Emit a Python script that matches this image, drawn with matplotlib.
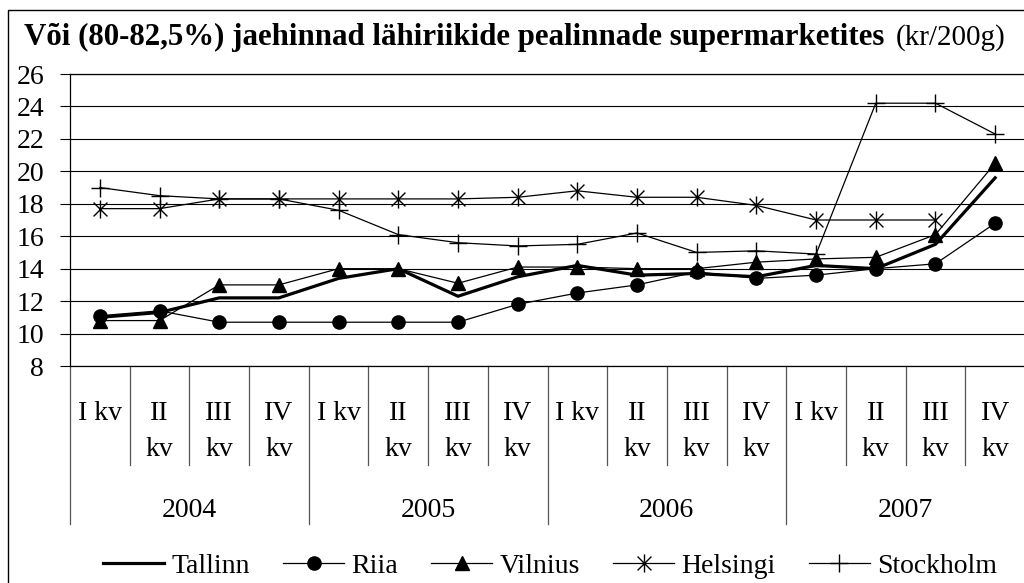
import numpy as np
import matplotlib
matplotlib.use("Agg")
import matplotlib.pyplot as plt
from matplotlib.path import Path
from matplotlib.lines import Line2D
from matplotlib.patches import Rectangle
import matplotlib.transforms as mtransforms

plt.rcParams['font.family'] = ['Liberation Serif', 'DejaVu Serif']

# data (kr/200g)
years = ['2004', '2005', '2006', '2007']
quarters = ['I kv', 'II\nkv', 'III\nkv', 'IV\nkv']
tallinn = [11.0, 11.3, 12.2, 12.2, 13.4, 14.0, 12.3, 13.5, 14.2, 13.6, 13.7, 13.5, 14.2, 14.0, 15.5, 19.6]
riia = [11.1, 11.4, 10.7, 10.7, 10.7, 10.7, 10.7, 11.8, 12.5, 13.0, 13.8, 13.4, 13.6, 14.0, 14.3, 16.8]
vilnius = [10.8, 10.8, 13.0, 13.0, 14.0, 14.0, 13.1, 14.1, 14.1, 14.0, 14.0, 14.4, 14.6, 14.7, 16.1, 20.5]
helsingi = [17.7, 17.7, 18.3, 18.3, 18.3, 18.3, 18.3, 18.4, 18.8, 18.4, 18.4, 17.9, 17.0, 17.0, 17.0, np.nan]
stockholm = [19.0, 18.5, 18.3, 18.3, 17.6, 16.1, 15.6, 15.4, 15.5, 16.2, 15.0, 15.1, 14.9, 24.2, 24.2, 22.3]

W, H = 1024, 583
fig = plt.figure(figsize=(W / 100, H / 100), dpi=100)
fig.patch.set_facecolor('white')

# outer frame of the chart
fig.patches.append(Rectangle((8 / W, -0.05), 1.2, 1 - 10 / H + 0.05, transform=fig.transFigure,
                             fill=False, edgecolor='black', linewidth=1.0))

ax = fig.add_axes([70 / W, 1 - 366 / H, (1025 - 70) / W, (366 - 74) / H])

n = len(tallinn)
x = np.arange(n)

# asterisk marker: X plus a vertical bar
star = Path([(-1, -1), (1, 1), (-1, 1), (1, -1), (0, -1.3), (0, 1.3)],
            [Path.MOVETO, Path.LINETO, Path.MOVETO, Path.LINETO, Path.MOVETO, Path.LINETO])

ax.plot(x, tallinn, color='black', lw=2.3, label='Tallinn', zorder=3)
ax.plot(x, riia, color='black', lw=0.9, marker='o', ms=9.5, label='Riia', zorder=4)
ax.plot(x, vilnius, color='black', lw=0.9, marker='^', ms=10, label='Vilnius', zorder=4)
ax.plot(x, helsingi, color='black', lw=0.9, marker=star, ms=13, mew=1.0, mfc='none', label='Helsingi', zorder=4)
ax.plot(x, stockholm, color='black', lw=0.9, marker='+', ms=13, mew=1.0, label='Stockholm', zorder=4)

ax.set_xlim(-0.5, n - 0.5)
ax.set_ylim(8, 26)
ax.set_yticks(np.arange(8, 27, 2))
ax.tick_params(axis='y', direction='out', length=7.2, width=0.8, pad=11.5, labelsize=20)
ax.set_xticks([])
ax.grid(axis='y', color='black', lw=0.8)
ax.set_axisbelow(True)
ax.spines['right'].set_visible(False)
for s in ['left', 'bottom', 'top']:
    ax.spines[s].set_linewidth(0.9)

# two-level category axis
trans = mtransforms.blended_transform_factory(ax.transData, fig.transFigure)
def fy(py):
    return 1 - py / H

for i in range(n):
    parts = quarters[i % 4].split('\n')
    ax.text(i, fy(420), parts[0], transform=trans, ha='center', va='baseline', fontsize=20, clip_on=False)
    if len(parts) > 1:
        ax.text(i, fy(456), parts[1], transform=trans, ha='center', va='baseline', fontsize=20, clip_on=False)
    # separators: short between quarters, long between years
    xb = i - 0.5
    bottom = 524 if i % 4 == 0 else 465
    ax.add_line(Line2D([xb, xb], [fy(366), fy(bottom)], transform=trans, color='#555555', lw=0.9, clip_on=False))
ax.add_line(Line2D([n - 0.5, n - 0.5], [fy(366), fy(524)], transform=trans, color='#555555', lw=0.9, clip_on=False))

for k, yr in enumerate(years):
    ax.text(4 * k + 1.5, fy(517), yr, transform=trans, ha='center', va='baseline', fontsize=20, clip_on=False)

# title: bold part followed by the unit in regular weight
t1 = fig.text(24 / W, fy(45), 'Või (80-82,5%) jaehinnad lähiriikide pealinnade supermarketites',
              fontsize=22.2, fontweight='bold', ha='left', va='baseline')
fig.canvas.draw()
bb = t1.get_window_extent()
fig.text(bb.x1 / W + 11 / W, fy(45), '(kr/200g)', fontsize=21, ha='left', va='baseline')

handles, labels = ax.get_legend_handles_labels()
fig.legend(handles, labels, loc='center', bbox_to_anchor=(550 / W, fy(566)), ncol=5, frameon=False,
           fontsize=20, handlelength=2.2, handletextpad=0.25, columnspacing=1.2, borderaxespad=0)

fig.savefig('out.png', dpi=100)
